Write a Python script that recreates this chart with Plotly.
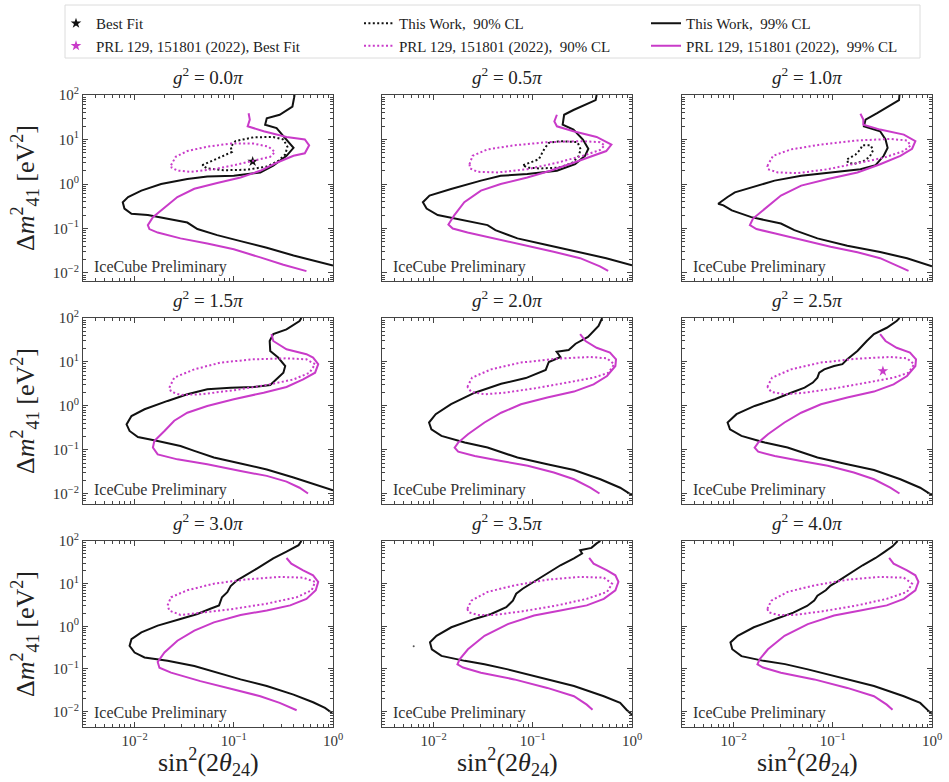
import plotly.graph_objects as go

SERIF = "Liberation Serif, DejaVu Serif, serif"
BLACK = "#111111"
MAGENTA = "#c93bc9"
FRAME = "#444444"

G2_VALUES = ["0.0", "0.5", "1.0", "1.5", "2.0", "2.5", "3.0", "3.5", "4.0"]

X_TICKVALS = [0.01, 0.1, 1]
X_TICKTEXT = ["10<sup>\u22122</sup>", "10<sup>\u22121</sup>", "10<sup>0</sup>"]
Y_TICKVALS = [0.01, 0.1, 1, 10, 100]
Y_TICKTEXT = ["10<sup>\u22122</sup>", "10<sup>\u22121</sup>", "10<sup>0</sup>",
              "10<sup>1</sup>", "10<sup>2</sup>"]

# ---------------- best fits ----------------
BF_X = [0.155]
BF_Y = [3.2]
PRLBF_X = [0.32]
PRLBF_Y = [6.2]

# ---------------- g^2 = 0.0 pi ----------------
TW99_X_00 = [0.41, 0.39, 0.29, 0.215, 0.207, 0.27, 0.316, 0.40, 0.34, 0.25, 0.185, 0.10, 0.054, 0.034, 0.0185,
             0.0117, 0.0086, 0.0076, 0.0079, 0.0093, 0.0136, 0.0215, 0.034, 0.043, 0.068, 0.117, 0.215, 0.40, 0.68, 1.0]
TW99_Y_00 = [100, 55, 36, 30, 21.5, 18, 11.9, 6.5, 4.3, 2.57, 1.82, 1.53, 1.48, 1.29, 1.0,
             0.71, 0.51, 0.39, 0.28, 0.215, 0.2, 0.167, 0.136, 0.097, 0.071, 0.052, 0.037, 0.0247, 0.018, 0.0148]
TW90_X_00 = [0.048, 0.068, 0.096, 0.093, 0.104, 0.158, 0.25, 0.316, 0.347, 0.33, 0.28, 0.215, 0.136, 0.079, 0.054, 0.048]
TW90_Y_00 = [2.64, 3.72, 5.25, 6.9, 9.2, 11.2, 11.4, 10, 6.9, 4.6, 3.3, 2.47, 2.09, 2.04, 2.24, 2.64]
PRL90_X_00 = [0.0233, 0.026, 0.034, 0.054, 0.093, 0.158, 0.224, 0.26, 0.233, 0.158, 0.10, 0.063, 0.037, 0.027, 0.0236, 0.0233]
PRL90_Y_00 = [2.64, 4.1, 5.5, 6.9, 8.1, 8.1, 6.9, 5.2, 4.1, 3.3, 2.64, 2.15, 1.88, 2.0, 2.34, 2.64]
PRL99_X_00 = [0.141, 0.145, 0.138, 0.20, 0.34, 0.52, 0.575, 0.52, 0.40, 0.27, 0.185, 0.117, 0.068, 0.04, 0.027, 0.02,
              0.0153, 0.0136, 0.0141, 0.0171, 0.029, 0.054, 0.10, 0.185, 0.316, 0.54]
PRL99_Y_00 = [39, 28, 19.8, 15.3, 11.4, 10, 7.4, 4.9, 4.3, 3.0, 1.98, 1.4, 1.05, 0.78, 0.51, 0.30,
              0.18, 0.119, 0.097, 0.081, 0.060, 0.046, 0.034, 0.0224, 0.0153, 0.011]

# ---------------- g^2 = 0.5 pi ----------------
TW99_X_05 = [0.44, 0.43, 0.257, 0.207, 0.20, 0.257, 0.32, 0.363, 0.336, 0.267, 0.175, 0.088, 0.0475, 0.03, 0.015,
             0.0091, 0.0078, 0.0085, 0.011, 0.0204, 0.035, 0.042, 0.07, 0.139, 0.30, 0.55, 1.0]
TW99_Y_05 = [100, 77, 46, 36, 21.5, 16.7, 10, 6.2, 4.3, 2.78, 1.98, 1.67, 1.53, 1.19, 0.77,
             0.55, 0.39, 0.28, 0.2, 0.153, 0.119, 0.092, 0.06, 0.0426, 0.0288, 0.0215, 0.0148]
TW90_X_05 = [0.08, 0.115, 0.131, 0.145, 0.189, 0.282, 0.304, 0.288, 0.247, 0.182, 0.119, 0.088, 0.08]
TW90_Y_05 = [2.64, 3.6, 6.2, 8.4, 9.2, 8.7, 6.0, 4.1, 2.93, 2.34, 2.23, 2.34, 2.64]
PRL90_X_05 = [0.023, 0.0247, 0.035, 0.065, 0.139, 0.30, 0.475, 0.53, 0.475, 0.32, 0.175, 0.088, 0.044, 0.0277, 0.0234, 0.023]
PRL90_Y_05 = [2.78, 4.3, 6.0, 7.4, 8.7, 9.2, 8.7, 7.4, 5.8, 4.3, 3.0, 2.15, 1.82, 1.88, 2.23, 2.78]
PRL99_X_05 = [0.175, 0.165, 0.175, 0.257, 0.44, 0.62, 0.55, 0.41, 0.257, 0.15, 0.088, 0.0475, 0.03, 0.0204, 0.0162,
              0.0141, 0.0156, 0.022, 0.041, 0.081, 0.162, 0.30, 0.475, 0.575]
PRL99_Y_05 = [36, 25.5, 19.8, 15.3, 11.4, 7.7, 5.5, 4.3, 3.0, 1.98, 1.4, 1.0, 0.71, 0.39, 0.2,
              0.123, 0.1, 0.081, 0.06, 0.0426, 0.030, 0.0215, 0.0141, 0.0112]

# ---------------- g^2 = 1.0 pi ----------------
TW99_X_10 = [0.47, 0.465, 0.28, 0.214, 0.206, 0.30, 0.34, 0.357, 0.326, 0.27, 0.19, 0.103, 0.048, 0.0259, 0.0151,
             0.0103, 0.0087, 0.0070, 0.0079, 0.0096, 0.0151, 0.030, 0.041, 0.070, 0.14, 0.30, 0.56, 1.0]
TW99_Y_10 = [100, 77, 39, 28, 19.8, 15.3, 10, 6.5, 4.3, 2.64, 2.15, 1.88, 1.53, 1.19, 0.84,
             0.65, 0.51, 0.36, 0.33, 0.255, 0.18, 0.129, 0.092, 0.06, 0.041, 0.0295, 0.0215, 0.0141]
TW90_X_10 = [0.14, 0.17, 0.19, 0.198, 0.24, 0.255, 0.236, 0.206, 0.163, 0.142, 0.14]
TW90_Y_10 = [3.6, 4.6, 6.0, 7.4, 7.4, 5.8, 4.1, 3.3, 2.83, 3.0, 3.6]
PRL90_X_10 = [0.0219, 0.025, 0.038, 0.076, 0.177, 0.38, 0.56, 0.61, 0.52, 0.326, 0.177, 0.089, 0.044, 0.028, 0.0222, 0.0219]
PRL90_Y_10 = [2.55, 4.3, 6.0, 7.7, 9.5, 10.3, 9.5, 7.4, 5.5, 3.9, 2.93, 2.15, 1.75, 1.82, 2.15, 2.55]
PRL99_X_10 = [0.19, 0.203, 0.203, 0.30, 0.52, 0.68, 0.63, 0.48, 0.30, 0.177, 0.089, 0.048, 0.030, 0.0206, 0.0157,
              0.0146, 0.017, 0.0257, 0.048, 0.095, 0.177, 0.30, 0.46, 0.58]
PRL99_Y_10 = [38, 28, 21.5, 16.7, 12.9, 9.2, 6.2, 4.3, 2.78, 1.82, 1.29, 0.92, 0.55, 0.28, 0.167,
              0.119, 0.097, 0.078, 0.055, 0.039, 0.0293, 0.0215, 0.0141, 0.0112]

# ---------------- g^2 = 1.5 pi ----------------
TW99_X_15 = [0.48, 0.46, 0.34, 0.25, 0.23, 0.233, 0.28, 0.33, 0.316, 0.27, 0.233, 0.158, 0.093, 0.054, 0.034, 0.0215,
             0.0126, 0.0093, 0.0083, 0.0089, 0.0108, 0.0171, 0.029, 0.04, 0.063, 0.117, 0.215, 0.40, 0.68, 1.0]
TW99_Y_15 = [100, 85, 55, 43, 30, 17.8, 12.6, 8.1, 5.7, 4.0, 3.0, 2.7, 2.6, 2.4, 1.84, 1.3,
             0.84, 0.59, 0.38, 0.27, 0.197, 0.16, 0.123, 0.095, 0.067, 0.049, 0.036, 0.0235, 0.016, 0.012]
PRL90_X_15 = [0.0224, 0.0251, 0.04, 0.074, 0.158, 0.34, 0.54, 0.66, 0.58, 0.40, 0.215, 0.10, 0.046, 0.029, 0.0233, 0.0224]
PRL90_Y_15 = [2.6, 4.4, 6.8, 9.7, 11.5, 12.1, 11.5, 8.9, 5.7, 4.0, 3.0, 2.27, 1.84, 1.78, 2.12, 2.6]
PRL99_X_15 = [0.24, 0.25, 0.34, 0.54, 0.63, 0.71, 0.66, 0.50, 0.34, 0.20, 0.10, 0.054, 0.034, 0.0251, 0.02,
              0.0158, 0.0153, 0.0171, 0.027, 0.054, 0.117, 0.215, 0.34, 0.46, 0.56]
PRL99_Y_15 = [43, 30, 19.4, 15, 12.6, 8.9, 5.7, 4.0, 2.7, 2.0, 1.42, 1.0, 0.70, 0.46, 0.27,
              0.16, 0.113, 0.079, 0.061, 0.047, 0.033, 0.0257, 0.019, 0.0138, 0.0102]

# ---------------- g^2 = 2.0 pi ----------------
TW99_X_20 = [0.50, 0.46, 0.36, 0.27, 0.23, 0.174, 0.19, 0.145, 0.135, 0.085, 0.048, 0.026, 0.0150, 0.0105,
             0.0090, 0.0095, 0.012, 0.0206, 0.035, 0.044, 0.07, 0.14, 0.26, 0.48, 0.76, 1.0]
TW99_Y_20 = [100, 66, 37, 26, 18.7, 17, 13, 10, 6.6, 4.3, 3.2, 2.0, 1.1, 0.65,
             0.42, 0.295, 0.209, 0.147, 0.113, 0.095, 0.067, 0.047, 0.035, 0.0215, 0.0138, 0.0093]
PRL90_X_20 = [0.0219, 0.0244, 0.038, 0.076, 0.177, 0.38, 0.56, 0.66, 0.58, 0.41, 0.222, 0.103, 0.052, 0.0326, 0.024, 0.0219]
PRL90_Y_20 = [2.7, 4.4, 6.8, 9.7, 11.9, 13, 12.1, 8.9, 5.7, 4.4, 3.4, 2.5, 2.0, 1.84, 2.08, 2.7]
PRL99_X_20 = [0.30, 0.34, 0.44, 0.60, 0.69, 0.68, 0.56, 0.41, 0.26, 0.14, 0.076, 0.048, 0.0326, 0.0222, 0.0177,
              0.0163, 0.0177, 0.026, 0.048, 0.089, 0.163, 0.26, 0.38, 0.47]
PRL99_Y_20 = [43, 30, 21, 16.3, 11.5, 8.1, 4.8, 3.1, 2.12, 1.55, 1.09, 0.70, 0.42, 0.227, 0.147,
              0.113, 0.091, 0.073, 0.056, 0.0435, 0.0306, 0.0215, 0.0139, 0.0102]

# ---------------- g^2 = 2.5 pi ----------------
TW99_X_25 = [0.47, 0.44, 0.35, 0.26, 0.22, 0.177, 0.14, 0.125, 0.103, 0.082, 0.073, 0.070, 0.063, 0.052, 0.038,
             0.026, 0.0163, 0.0107, 0.0087, 0.0092, 0.012, 0.0206, 0.035, 0.044, 0.07, 0.14, 0.26, 0.48, 0.76, 1.0]
TW99_Y_25 = [100, 85, 60, 43, 30, 17.8, 11.5, 8.9, 8.1, 6.8, 5.7, 4.4, 3.4, 2.6, 2.0,
             1.42, 1.0, 0.65, 0.42, 0.295, 0.209, 0.147, 0.113, 0.095, 0.067, 0.047, 0.035, 0.0215, 0.0138, 0.0093]
PRL90_X_25 = [0.0219, 0.0244, 0.038, 0.076, 0.177, 0.38, 0.56, 0.66, 0.58, 0.41, 0.222, 0.103, 0.052, 0.0326, 0.024, 0.0219]
PRL90_Y_25 = [2.7, 4.4, 6.8, 9.7, 11.9, 13, 12.1, 8.9, 5.7, 4.4, 3.4, 2.5, 2.0, 1.84, 2.08, 2.7]
PRL99_X_25 = [0.30, 0.34, 0.44, 0.60, 0.69, 0.68, 0.56, 0.41, 0.26, 0.14, 0.076, 0.048, 0.0326, 0.0222, 0.0177,
              0.0163, 0.0177, 0.026, 0.048, 0.089, 0.163, 0.26, 0.38, 0.47]
PRL99_Y_25 = [43, 30, 21, 16.3, 11.5, 8.1, 4.8, 3.1, 2.12, 1.55, 1.09, 0.70, 0.42, 0.227, 0.147,
              0.113, 0.091, 0.073, 0.056, 0.0435, 0.0306, 0.0215, 0.0139, 0.0102]

# ---------------- g^2 = 3.0 pi ----------------
TW99_X_30 = [0.48, 0.45, 0.34, 0.25, 0.171, 0.131, 0.108, 0.093, 0.086, 0.076, 0.071, 0.058, 0.043, 0.029, 0.0171,
             0.0117, 0.0093, 0.0089, 0.01, 0.0126, 0.0215, 0.04, 0.068, 0.117, 0.215, 0.40, 0.63, 0.83, 0.98]
TW99_Y_30 = [100, 80, 56, 39, 22.6, 15.7, 12, 8.8, 6.3, 4.8, 3.1, 2.58, 1.95, 1.49, 1.04,
             0.72, 0.50, 0.35, 0.243, 0.186, 0.155, 0.117, 0.082, 0.057, 0.04, 0.0251, 0.0166, 0.0122, 0.0093]
PRL90_X_30 = [0.0215, 0.0233, 0.034, 0.063, 0.136, 0.29, 0.50, 0.66, 0.61, 0.43, 0.215, 0.10, 0.046, 0.029, 0.0224, 0.0215]
PRL90_Y_30 = [3.1, 4.8, 7.0, 10, 12.6, 14.4, 13.8, 11, 7.0, 4.8, 3.4, 2.57, 2.07, 1.85, 2.34, 3.1]
PRL99_X_30 = [0.34, 0.38, 0.50, 0.63, 0.71, 0.67, 0.54, 0.37, 0.215, 0.117, 0.063, 0.04, 0.027, 0.02, 0.0171,
              0.0178, 0.0233, 0.046, 0.10, 0.185, 0.29, 0.43]
PRL99_Y_30 = [40, 29.5, 20.6, 15.7, 11, 7.0, 4.4, 3.1, 2.34, 1.85, 1.24, 0.79, 0.46, 0.243, 0.146,
              0.107, 0.082, 0.052, 0.033, 0.023, 0.016, 0.0108]

# ---------------- g^2 = 3.5 pi ----------------
TW99_X_35 = [0.48, 0.44, 0.39, 0.30, 0.314, 0.26, 0.19, 0.14, 0.111, 0.095, 0.079, 0.068, 0.063, 0.054, 0.038,
             0.0259, 0.0151, 0.0107, 0.0092, 0.0096, 0.012, 0.0206, 0.0326, 0.056, 0.12, 0.26, 0.52, 0.76, 0.88, 1.0]
TW99_Y_35 = [100, 88, 69, 61, 51, 39, 27, 17.2, 12.6, 10, 7.6, 5.8, 4.0, 2.8, 1.95,
             1.49, 0.95, 0.60, 0.42, 0.29, 0.203, 0.155, 0.129, 0.098, 0.062, 0.04, 0.023, 0.016, 0.0111, 0.0085]
PRL90_X_35 = [0.0219, 0.024, 0.035, 0.065, 0.14, 0.30, 0.52, 0.63, 0.56, 0.35, 0.177, 0.076, 0.041, 0.028, 0.0225, 0.0219]
PRL90_Y_35 = [2.57, 4.0, 6.4, 9.1, 12.4, 14.4, 13.8, 10, 6.4, 4.4, 3.1, 2.22, 1.85, 1.85, 2.14, 2.57]
PRL99_X_35 = [0.37, 0.41, 0.56, 0.68, 0.73, 0.68, 0.52, 0.35, 0.19, 0.103, 0.056, 0.0326, 0.0222, 0.0183, 0.0174,
              0.0198, 0.030, 0.065, 0.14, 0.26, 0.35, 0.40]
PRL99_Y_35 = [40, 29.5, 20.6, 15.7, 11, 7.0, 4.4, 3.1, 2.34, 1.79, 1.13, 0.60, 0.29, 0.169, 0.129,
              0.108, 0.082, 0.057, 0.036, 0.023, 0.0146, 0.0111]
DOT_X_35 = [0.0063]
DOT_Y_35 = [0.34]

# ---------------- g^2 = 4.0 pi ----------------
TW99_X_40 = [0.45, 0.40, 0.33, 0.27, 0.2, 0.16, 0.13, 0.11, 0.095, 0.085, 0.07, 0.065, 0.055, 0.04, 0.027, 0.016,
             0.011, 0.0093, 0.0097, 0.012, 0.02, 0.033, 0.056, 0.12, 0.26, 0.52, 0.76, 0.9, 1.0]
TW99_Y_40 = [100, 75, 55, 40, 27, 19, 14, 11, 9, 7, 5.2, 4.0, 3.0, 2.1, 1.5, 0.95,
             0.6, 0.42, 0.29, 0.2, 0.155, 0.13, 0.098, 0.062, 0.04, 0.023, 0.016, 0.011, 0.0088]
PRL90_X_40 = [0.0219, 0.024, 0.035, 0.065, 0.14, 0.30, 0.52, 0.63, 0.56, 0.35, 0.177, 0.076, 0.041, 0.028, 0.0225, 0.0219]
PRL90_Y_40 = [2.57, 4.0, 6.4, 9.1, 12.4, 14.4, 13.8, 10, 6.4, 4.4, 3.1, 2.22, 1.85, 1.85, 2.14, 2.57]
PRL99_X_40 = [0.37, 0.41, 0.56, 0.68, 0.73, 0.68, 0.52, 0.35, 0.19, 0.103, 0.056, 0.0326, 0.0222, 0.0183, 0.0174,
              0.0198, 0.030, 0.065, 0.14, 0.26, 0.35, 0.40]
PRL99_Y_40 = [40, 29.5, 20.6, 15.7, 11, 7.0, 4.4, 3.1, 2.34, 1.79, 1.13, 0.60, 0.29, 0.169, 0.129,
              0.108, 0.082, 0.057, 0.036, 0.023, 0.0146, 0.0111]

TW99 = [(TW99_X_00, TW99_Y_00), (TW99_X_05, TW99_Y_05), (TW99_X_10, TW99_Y_10),
        (TW99_X_15, TW99_Y_15), (TW99_X_20, TW99_Y_20), (TW99_X_25, TW99_Y_25),
        (TW99_X_30, TW99_Y_30), (TW99_X_35, TW99_Y_35), (TW99_X_40, TW99_Y_40)]
TW90 = [(TW90_X_00, TW90_Y_00), (TW90_X_05, TW90_Y_05), (TW90_X_10, TW90_Y_10),
        None, None, None, None, None, None]
PRL90 = [(PRL90_X_00, PRL90_Y_00), (PRL90_X_05, PRL90_Y_05), (PRL90_X_10, PRL90_Y_10),
         (PRL90_X_15, PRL90_Y_15), (PRL90_X_20, PRL90_Y_20), (PRL90_X_25, PRL90_Y_25),
         (PRL90_X_30, PRL90_Y_30), (PRL90_X_35, PRL90_Y_35), (PRL90_X_40, PRL90_Y_40)]
PRL99 = [(PRL99_X_00, PRL99_Y_00), (PRL99_X_05, PRL99_Y_05), (PRL99_X_10, PRL99_Y_10),
         (PRL99_X_15, PRL99_Y_15), (PRL99_X_20, PRL99_Y_20), (PRL99_X_25, PRL99_Y_25),
         (PRL99_X_30, PRL99_Y_30), (PRL99_X_35, PRL99_Y_35), (PRL99_X_40, PRL99_Y_40)]

# ---------------- layout geometry (pixels) ----------------
W, H = 949, 782
COL_PX = [(83, 333), (382, 632), (682, 932)]
ROW_PX = [(95, 281), (318, 504), (541, 727)]
ROW_YRANGE = [(-2.18, 2.0), (-2.23, 2.0), (-2.36, 2.0)]
X_RANGE = (-2.52, 0.0)
MINOR_VALS = [m * 10.0 ** e for e in (-3, -2, -1, 0, 1) for m in range(2, 10)]

fig = go.Figure()
DOT_DASH = "2px,2.4px"

legend_done = set()


def add_trace(i, xs, ys, name, color, dash, legend, rank, mode="lines", marker=None, width=2.0):
    sfx = "" if i == 0 else str(i + 1)
    show = name not in legend_done
    legend_done.add(name)
    kw = dict(x=xs, y=ys, mode=mode, name=name, showlegend=show, legendrank=rank, legend=legend,
              xaxis="x" + sfx, yaxis="y" + sfx, hoverinfo="skip")
    if mode == "lines":
        kw["line"] = dict(color=color, width=width, dash=dash)
    else:
        kw["marker"] = marker
    fig.add_trace(go.Scatter(**kw))


for i in range(9):
    if i == 0:
        add_trace(i, BF_X, BF_Y, "Best Fit", BLACK, None, "legend", 1, mode="markers",
                  marker=dict(symbol="star", size=8, color=BLACK))
    if TW90[i] is not None:
        add_trace(i, TW90[i][0], TW90[i][1], "This Work,  90% CL", BLACK, DOT_DASH, "legend2", 1)
    add_trace(i, TW99[i][0], TW99[i][1], "This Work,  99% CL", BLACK, "solid", "legend3", 1)
    if i == 5:
        add_trace(i, PRLBF_X, PRLBF_Y, "PRL 129, 151801 (2022), Best Fit", MAGENTA, None, "legend", 2,
                  mode="markers", marker=dict(symbol="star", size=8, color=MAGENTA))
    add_trace(i, PRL90[i][0], PRL90[i][1], "PRL 129, 151801 (2022),  90% CL", MAGENTA, DOT_DASH, "legend2", 2)
    add_trace(i, PRL99[i][0], PRL99[i][1], "PRL 129, 151801 (2022),  99% CL", MAGENTA, "solid", "legend3", 2)
    if i == 7:
        fig.add_trace(go.Scatter(x=DOT_X_35, y=DOT_Y_35, mode="markers", showlegend=False,
                                 marker=dict(size=2, color="#555"), xaxis="x8", yaxis="y8",
                                 hoverinfo="skip"))


def legend_cfg(xpx):
    return dict(orientation="v", x=xpx / W, y=1 - 7 / H, xanchor="left", yanchor="top",
                font=dict(family=SERIF, size=15, color="#222"), borderwidth=0,
                bgcolor="rgba(0,0,0,0)", traceorder="normal", tracegroupgap=0)


layout = dict(
    width=W, height=H, margin=dict(l=0, r=0, t=0, b=0, autoexpand=False),
    paper_bgcolor="white", plot_bgcolor="white",
    font=dict(family=SERIF, color="#222"),
    showlegend=True,
    legend=legend_cfg(56), legend2=legend_cfg(359), legend3=legend_cfg(646),
    shapes=[dict(type="rect", xref="paper", yref="paper", x0=65 / W, x1=920 / W,
                 y0=1 - 58 / H, y1=1 - 5 / H, line=dict(color="#dcdcdc", width=1),
                 fillcolor="rgba(0,0,0,0)", layer="below")],
)

annotations = []
for i in range(9):
    r, c = divmod(i, 3)
    sfx = "" if i == 0 else str(i + 1)
    x0, x1 = COL_PX[c]
    y0, y1 = ROW_PX[r]
    xd = [x0 / W, x1 / W]
    yd = [1 - y1 / H, 1 - y0 / H]
    common = dict(type="log", showline=True, linecolor=FRAME, linewidth=1.2, mirror="allticks",
                  ticks="inside", ticklen=5, tickwidth=1, tickcolor=FRAME, showgrid=False,
                  zeroline=False, automargin=False, tickfont=dict(family=SERIF, size=15, color="#333"),
                  minor=dict(ticks="inside", ticklen=2.5, tickwidth=0.8, tickcolor=FRAME,
                             tickmode="array", tickvals=MINOR_VALS, showgrid=False))
    layout["xaxis" + sfx] = dict(common, domain=xd, range=list(X_RANGE), anchor="y" + sfx,
                                 tickmode="array", tickvals=X_TICKVALS, ticktext=X_TICKTEXT,
                                 showticklabels=(r == 2))
    layout["yaxis" + sfx] = dict(common, domain=yd, range=list(ROW_YRANGE[r]), anchor="x" + sfx,
                                 tickmode="array", tickvals=Y_TICKVALS, ticktext=Y_TICKTEXT,
                                 showticklabels=(c == 0))
    annotations.append(dict(text="<i>g</i><sup>2</sup> = " + G2_VALUES[i] + "<i>\u03c0</i>",
                            x=(xd[0] + xd[1]) / 2, y=yd[1] + 5 / H, xref="paper", yref="paper",
                            xanchor="center", yanchor="bottom", showarrow=False,
                            font=dict(family=SERIF, size=19, color="#222")))
    annotations.append(dict(text="IceCube Preliminary", x=xd[0] + 9 / W, y=yd[0] + 3 / H,
                            xref="paper", yref="paper", xanchor="left", yanchor="bottom",
                            showarrow=False, font=dict(family=SERIF, size=16, color="#333")))
    if c == 0:
        annotations.append(dict(text="\u0394<i>m</i><sup>2</sup><sub>41</sub> [eV<sup>2</sup>]",
                                x=25 / W, y=(yd[0] + yd[1]) / 2, xref="paper", yref="paper",
                                xanchor="center", yanchor="middle", textangle=-90, showarrow=False,
                                font=dict(family=SERIF, size=26, color="#222")))
    if r == 2:
        annotations.append(dict(text="sin<sup>2</sup>(2<i>\u03b8</i><sub>24</sub>)",
                                x=(xd[0] + xd[1]) / 2, y=1 - 762 / H, xref="paper", yref="paper",
                                xanchor="center", yanchor="middle", showarrow=False,
                                font=dict(family=SERIF, size=26, color="#222")))

layout["annotations"] = annotations
fig.update_layout(**layout)
fig.write_html("out.html")
